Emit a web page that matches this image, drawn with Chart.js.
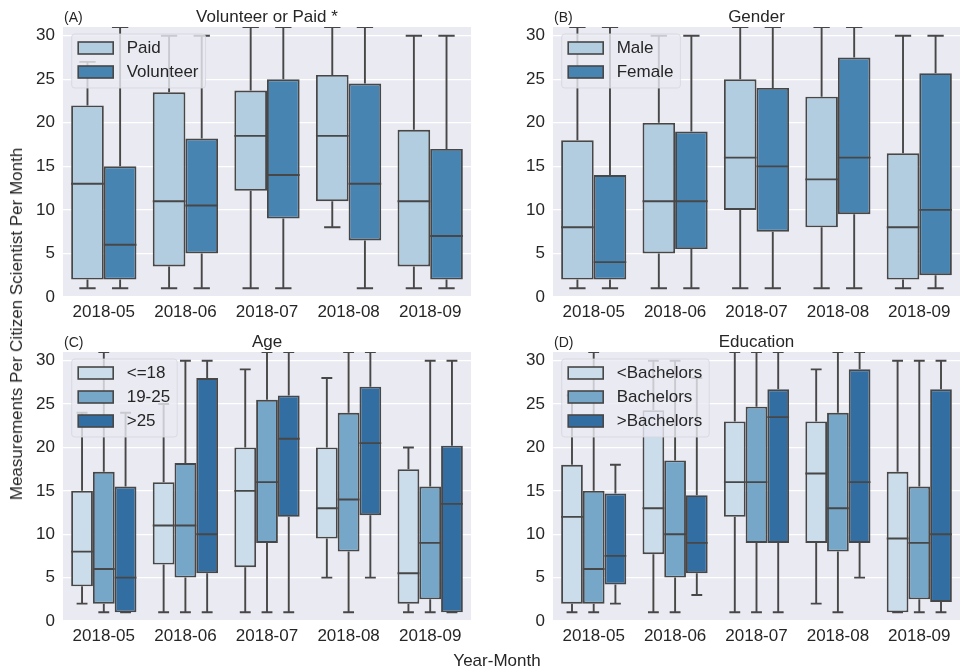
<!DOCTYPE html>
<html>
<head>
<meta charset="utf-8">
<script src="https://cdn.jsdelivr.net/npm/chart.js@4.4.1/dist/chart.umd.min.js"></script>
<style>
  html, body { margin: 0; padding: 0; background: #ffffff; }
  #page { position: relative; width: 961px; height: 671px; overflow: hidden; font-family: "Liberation Sans", Arial, sans-serif; color: #262626; }
  canvas { position: absolute; }
  .axis-label { position: absolute; font-size: 17px; white-space: nowrap; color: #262626; }
  #ylabel { left: 17px; top: 324px; transform: translate(-50%, -50%) rotate(-90deg); }
  #xlabel { left: 497px; top: 661px; transform: translate(-50%, -50%); }
</style>
</head>
<body>
<div id="page">
  <canvas id="panelA" width="480" height="326" style="left:0px;top:0px;"></canvas>
  <canvas id="panelB" width="481" height="326" style="left:480px;top:0px;"></canvas>
  <canvas id="panelC" width="480" height="345" style="left:0px;top:326px;"></canvas>
  <canvas id="panelD" width="481" height="345" style="left:480px;top:326px;"></canvas>
  <div class="axis-label" id="ylabel">Measurements Per Citizen Scientist Per Month</div>
  <div class="axis-label" id="xlabel">Year-Month</div>
</div>
<script>
// Categories and tick values
const months = ['2018-05', '2018-06', '2018-07', '2018-08', '2018-09'];
const yTicks = [0, 5, 10, 15, 20, 25, 30];

// Box statistics per month: [lower whisker, Q1, median, Q3, upper whisker]
const paid      = [[1, 2, 13, 22, 27], [1, 3.5, 11, 23.5, 30], [1, 12.2, 18.5, 23.7, 31], [8, 11, 18.5, 25.5, 31], [1, 3.5, 11, 19.2, 30]];
const volunteer = [[1, 2, 6, 15, 31], [1, 5, 10.5, 18.2, 30], [1, 9, 14, 25, 31], [1, 6.5, 13, 24.5, 31], [1, 2, 7, 17, 30]];

const male   = [[1, 2, 8, 18, 31], [1, 5, 11, 20, 30], [1, 10, 16, 25, 31], [1, 8, 13.5, 23, 31], [1, 2, 8, 16.5, 30]];
const female = [[1, 2, 4, 14, 31], [1, 5.5, 11, 19, 30], [1, 7.5, 15, 24, 31], [1, 9.5, 16, 27.5, 31], [1, 2.5, 10, 25.7, 30]];

const ageUpTo18  = [[2, 4, 8, 15, 24], [1, 6.5, 11, 16, 25], [1, 6.2, 15, 20, 29], [5, 9.5, 13, 20, 28], [1, 2, 5.5, 17.5, 20]];
const age19to25  = [[1, 2, 6, 17.2, 31], [1, 5, 11, 18.2, 30], [1, 9, 16, 25.5, 31], [1, 8, 14, 24, 31], [1, 2.5, 9, 15.5, 30]];
const ageOver25  = [[1, 1, 5, 15.5, 24], [1, 5.5, 10, 28, 30], [1, 12, 21, 26, 31], [5, 12.2, 20.5, 27, 31], [1, 1, 13.5, 20.2, 30]];

const belowBachelors = [[1, 2, 12, 18, 26], [1, 7.7, 13, 24.3, 30], [1, 12, 16, 23, 31], [2, 9, 17, 23, 29], [1, 1, 9.5, 17.2, 30]];
const bachelors      = [[1, 2, 6, 15, 31], [1, 5, 10, 18.5, 30], [1, 9, 16, 24.7, 31], [1, 8, 13, 24, 31], [1, 2.5, 9, 15.5, 30]];
const aboveBachelors = [[2, 4.2, 7.5, 14.7, 18], [3, 5.5, 9, 14.5, 28], [1, 9, 23.5, 26.7, 31], [5, 9, 16, 29, 31], [1, 2.2, 10, 26.7, 30]];

// Styling
const FONT = '"Liberation Sans", Arial, sans-serif';
const TEXT = '#262626';
const EDGE = '#474747';
const FACE = '#EAEAF2';
const BLUES2 = ['#b3cde0', '#4884b2'];
const BLUES3 = ['#cbdcea', '#76a7c8', '#326ea2'];

// Axes background, whiskers, medians, legend and panel titles
const boxPlugin = {
  id: 'boxPlot',
  beforeDraw(chart) {
    const a = chart.chartArea, ctx = chart.ctx;
    ctx.save();
    ctx.fillStyle = FACE;
    ctx.fillRect(a.left, a.top, a.right - a.left, a.bottom - a.top);
    ctx.restore();
  },
  afterDatasetsDraw(chart) {
    const ctx = chart.ctx, y = chart.scales.y, a = chart.chartArea;
    ctx.save();
    ctx.beginPath();
    ctx.rect(a.left, a.top, a.right - a.left, a.bottom - a.top);
    ctx.clip();
    ctx.strokeStyle = EDGE;
    ctx.lineWidth = 1.9;
    ctx.lineCap = 'butt';
    chart.data.datasets.forEach((ds, di) => {
      const meta = chart.getDatasetMeta(di);
      meta.data.forEach((bar, i) => {
        const s = ds.boxStats[i];
        const x = bar.x, hw = bar.width / 2, cw = bar.width / 4;
        const pLow = y.getPixelForValue(s[0]);
        const pQ1 = y.getPixelForValue(s[1]);
        const pMed = y.getPixelForValue(s[2]);
        const pQ3 = y.getPixelForValue(s[3]);
        const pHigh = y.getPixelForValue(s[4]);
        ctx.beginPath();
        if (s[0] < s[1]) {
          ctx.moveTo(x, pQ1); ctx.lineTo(x, pLow);
        }
        ctx.moveTo(x - cw, pLow); ctx.lineTo(x + cw, pLow);
        if (s[4] > s[3]) {
          ctx.moveTo(x, pQ3); ctx.lineTo(x, pHigh);
        }
        ctx.moveTo(x - cw, pHigh); ctx.lineTo(x + cw, pHigh);
        ctx.moveTo(x - hw, pMed); ctx.lineTo(x + hw, pMed);
        ctx.stroke();
      });
    });
    ctx.restore();
  },
  afterDraw(chart) {
    const ctx = chart.ctx, a = chart.chartArea;
    const opts = chart.options.plugins.boxPlot;
    ctx.save();
    // panel letter and title
    ctx.fillStyle = TEXT;
    ctx.textBaseline = 'alphabetic';
    ctx.font = '14px ' + FONT;
    ctx.textAlign = 'left';
    ctx.fillText(opts.letter, a.left + 1, a.top - 5);
    ctx.font = '17px ' + FONT;
    ctx.textAlign = 'center';
    ctx.fillText(opts.title, (a.left + a.right) / 2, a.top - 5.5);

    // legend
    const ds = chart.data.datasets;
    ctx.font = '17px ' + FONT;
    let maxW = 0;
    ds.forEach(d => { maxW = Math.max(maxW, ctx.measureText(d.label).width); });
    const fx = a.left + 8.7, fy = a.top + 7;
    const handleX = fx + 6.5, textX = handleX + 48.5;
    const fw = textX + maxW + 7 - fx;
    const fh = ds.length * 24 + 6;
    ctx.beginPath();
    ctx.roundRect(fx, fy, fw, fh, 3);
    ctx.fillStyle = 'rgba(234,234,242,0.8)';
    ctx.fill();
    ctx.strokeStyle = 'rgba(214,214,222,0.8)';
    ctx.lineWidth = 1;
    ctx.stroke();
    ds.forEach((d, i) => {
      const hy = fy + 8 + i * 24;
      ctx.fillStyle = d.backgroundColor;
      ctx.fillRect(handleX, hy, 35, 12);
      ctx.strokeStyle = EDGE;
      ctx.lineWidth = 1.6;
      ctx.strokeRect(handleX, hy, 35, 12);
      ctx.fillStyle = TEXT;
      ctx.textAlign = 'left';
      ctx.textBaseline = 'middle';
      ctx.fillText(d.label, textX, hy + 6.5);
    });
    ctx.restore();
  }
};

function makePanel(id, letter, title, series, colors, geom) {
  const datasets = series.map((s, k) => ({
    label: s.label,
    boxStats: s.stats,
    data: s.stats.map(v => [v[1], v[3]]),
    backgroundColor: colors[k],
    borderColor: EDGE,
    borderWidth: 1.9,
    borderSkipped: false,
    categoryPercentage: 0.8,
    barPercentage: 1.0
  }));
  return new Chart(document.getElementById(id), {
    type: 'bar',
    data: { labels: months, datasets },
    plugins: [boxPlugin],
    options: {
      responsive: false,
      animation: false,
      devicePixelRatio: 1,
      layout: { padding: { top: geom.top, right: geom.right, left: 0, bottom: 0 } },
      plugins: {
        legend: { display: false },
        tooltip: { enabled: false },
        boxPlot: { letter, title }
      },
      scales: {
        x: {
          type: 'category',
          grid: { display: false },
          border: { display: false },
          ticks: { color: TEXT, font: { family: FONT, size: 17 }, padding: -3, maxRotation: 0, autoSkip: false },
          afterFit: s => { s.height = geom.xh; }
        },
        y: {
          min: 0,
          max: 31,
          grid: { color: '#ffffff', lineWidth: 1.2, drawTicks: false },
          border: { display: false },
          ticks: { color: TEXT, font: { family: FONT, size: 17 }, padding: 8 },
          afterBuildTicks: s => { s.ticks = yTicks.map(v => ({ value: v })); },
          afterFit: s => { s.width = geom.yw; }
        }
      }
    }
  });
}

makePanel('panelA', '(A)', 'Volunteer or Paid *',
  [{ label: 'Paid', stats: paid }, { label: 'Volunteer', stats: volunteer }],
  BLUES2, { top: 27, right: 9, yw: 63, xh: 29 });

makePanel('panelB', '(B)', 'Gender',
  [{ label: 'Male', stats: male }, { label: 'Female', stats: female }],
  BLUES2, { top: 27, right: 1, yw: 73, xh: 29 });

makePanel('panelC', '(C)', 'Age',
  [{ label: '<=18', stats: ageUpTo18 }, { label: '19-25', stats: age19to25 }, { label: '>25', stats: ageOver25 }],
  BLUES3, { top: 26, right: 9, yw: 63, xh: 50 });

makePanel('panelD', '(D)', 'Education',
  [{ label: '<Bachelors', stats: belowBachelors }, { label: 'Bachelors', stats: bachelors }, { label: '>Bachelors', stats: aboveBachelors }],
  BLUES3, { top: 26, right: 1, yw: 73, xh: 50 });
</script>
</body>
</html>
